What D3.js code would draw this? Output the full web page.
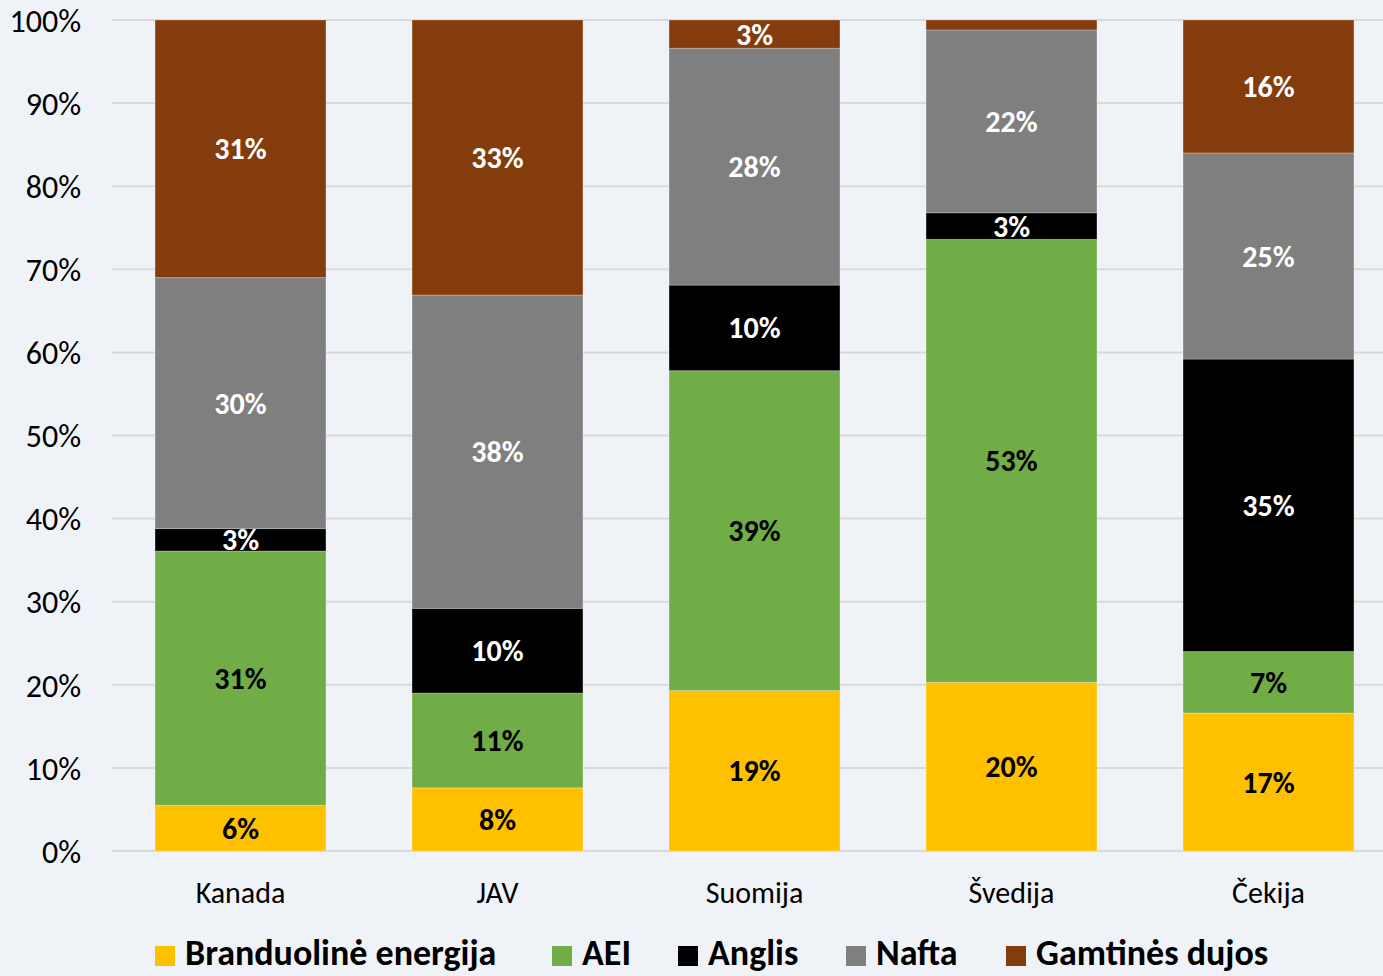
<!DOCTYPE html>
<html>
<head>
<meta charset="utf-8">
<script src="https://cdn.jsdelivr.net/npm/d3@7"></script>
<style>
  html, body { margin: 0; padding: 0; background: #eff3f7; overflow: hidden; }
  svg { display: block; font-family: Carlito, Calibri, Lato, sans-serif; }
</style>
</head>
<body>
<svg width="1383" height="976"></svg>
<script>
(function (d3) {
  'use strict';

  const countries = ['Kanada', 'JAV', 'Suomija', 'Švedija', 'Čekija'];
  const seriesNames = ['Branduolinė energija', 'AEI', 'Anglis', 'Nafta', 'Gamtinės dujos'];
  const seriesColors = ['#ffc000', '#70ad47', '#000000', '#7f7f7f', '#843c0c'];
  const labelColors = ['#000', '#000', '#fff', '#fff', '#fff'];

  const nuclear = [5.5, 7.6, 19.3, 20.3, 16.6];
  const aei     = [30.6, 11.4, 38.5, 53.3, 7.4];
  const coal    = [2.7, 10.2, 10.3, 3.2, 35.2];
  const oil     = [30.2, 37.7, 28.5, 22.0, 24.8];
  const gas     = [31.0, 33.1, 3.4, 1.2, 16.0];

  const yTicks = [0, 10, 20, 30, 40, 50, 60, 70, 80, 90, 100];

  const svg = d3.select('svg');
  const width = +svg.attr('width');

  const rows = countries.map((c, i) => ({
    country: c,
    s0: nuclear[i], s1: aei[i], s2: coal[i], s3: oil[i], s4: gas[i]
  }));
  const keys = ['s0', 's1', 's2', 's3', 's4'];
  const stacked = d3.stack().keys(keys)
    .offset(d3.stackOffsetExpand)(rows);

  const xScale = d3.scaleBand()
    .domain(countries)
    .range([112, 1397])
    .paddingInner(0.335)
    .paddingOuter(0.1675);

  const yScale = d3.scaleLinear()
    .domain([0, 1])
    .range([851, 20]);

  // gridlines
  svg.append('g')
    .selectAll('line').data(yTicks)
    .enter().append('line')
      .attr('x1', 112)
      .attr('x2', width)
      .attr('y1', d => yScale(d / 100))
      .attr('y2', d => yScale(d / 100))
      .attr('stroke', '#d9d9d9')
      .attr('stroke-width', 2);

  // y axis
  const yAxis = d3.axisLeft(yScale)
    .tickValues(yTicks.map(d => d / 100))
    .tickFormat(d3.format('.0%'))
    .tickSize(0)
    .tickPadding(0);
  const yAxisG = svg.append('g')
    .attr('transform', 'translate(81,0)')
    .call(yAxis);
  yAxisG.select('.domain').remove();
  yAxisG.selectAll('text')
    .attr('font-family', 'Carlito, Calibri, Lato, sans-serif')
    .attr('font-size', 32)
    .attr('fill', '#000')
    .attr('dy', '0.35em');

  // x axis
  const xAxis = d3.axisBottom(xScale).tickSize(0).tickPadding(0);
  const xAxisG = svg.append('g')
    .attr('transform', 'translate(0,903)')
    .call(xAxis);
  xAxisG.select('.domain').remove();
  xAxisG.selectAll('text')
    .attr('font-family', 'Carlito, Calibri, Lato, sans-serif')
    .attr('font-size', 30)
    .attr('fill', '#000')
    .attr('dy', 0);

  // bars
  const layers = svg.append('g').selectAll('g').data(stacked)
    .enter().append('g')
      .attr('fill', (d, i) => seriesColors[i]);

  layers.selectAll('rect').data(d => d)
    .enter().append('rect')
      .attr('x', d => xScale(d.data.country))
      .attr('y', d => yScale(d[1]))
      .attr('width', xScale.bandwidth())
      .attr('height', d => yScale(d[0]) - yScale(d[1]))
      .attr('stroke', '#ffffff')
      .attr('stroke-opacity', 0.25)
      .attr('stroke-width', 1);

  // labels
  const labels = svg.append('g');
  stacked.forEach((layer, i) => {
    labels.selectAll(null).data(layer.filter(d => (d[1] - d[0]) >= 0.02))
      .enter().append('text')
        .attr('x', d => xScale(d.data.country) + xScale.bandwidth() / 2)
        .attr('y', d => yScale((d[0] + d[1]) / 2))
        .attr('dy', '0.35em')
        .attr('text-anchor', 'middle')
        .attr('font-weight', 'bold')
        .attr('font-size', 30)
        .attr('fill', labelColors[i])
        .text(d => Math.round((d[1] - d[0]) * 100) + '%');
  });

  // legend
  const legendX = [155, 552, 678, 846, 1006];
  const legend = svg.append('g');
  seriesNames.forEach((name, i) => {
    legend.append('rect')
      .attr('x', legendX[i])
      .attr('y', 946)
      .attr('width', 20)
      .attr('height', 20)
      .attr('fill', seriesColors[i]);
    legend.append('text')
      .attr('x', legendX[i] + 30)
      .attr('y', 965)
      .attr('font-weight', 'bold')
      .attr('font-size', 36)
      .attr('fill', '#000')
      .text(name);
  });

}(d3));
</script>
</body>
</html>
